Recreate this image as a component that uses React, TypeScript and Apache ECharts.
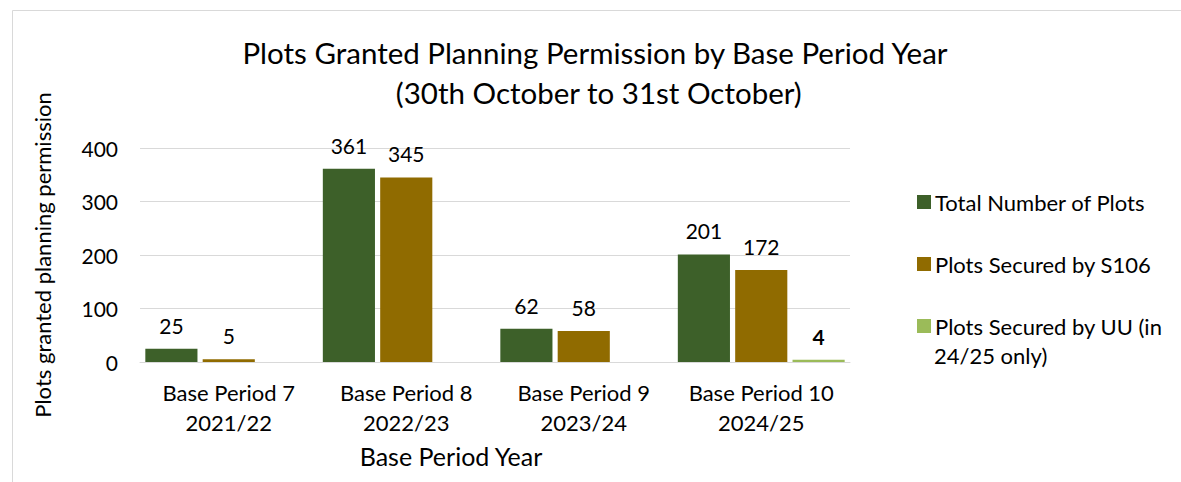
import React, { useEffect, useRef } from "react";
import * as echarts from "echarts";

const categories = ["Base Period 7\n2021/22", "Base Period 8\n2022/23", "Base Period 9\n2023/24", "Base Period 10\n2024/25"];
const totalPlots = [25, 361, 62, 201];
const s106Plots = [5, 345, 58, 172];
const uuPlots: (number | null)[] = [null, null, null, 4];
const yTicks = [0, 100, 200, 300, 400];

const FONT = "Lato";

export default function App() {
  const ref = useRef<HTMLDivElement>(null);
  useEffect(() => {
    if (!ref.current) return;
    const chart = echarts.init(ref.current, undefined, { renderer: "svg" });
    const labelCommon = {
      show: true,
      position: "top" as const,
      distance: 13,
      fontFamily: FONT,
      fontSize: 21,
      color: "#000",
    };
    chart.setOption({
      animation: false,
      backgroundColor: "#fff",
      textStyle: { fontFamily: FONT },
      title: {
        text: "Plots Granted Planning Permission by Base Period Year\n (30th October to 31st October)",
        left: 590,
        top: 27,
        textAlign: "center",
        textStyle: { fontFamily: FONT, fontSize: 29.5, fontWeight: "normal", color: "#000", lineHeight: 40 },
      },
      legend: {
        orient: "vertical",
        left: 912,
        top: 185,
        itemWidth: 14,
        itemHeight: 14,
        itemGap: 38,
        icon: "rect",
        textStyle: { fontFamily: FONT, fontSize: 22, color: "#000", lineHeight: 24, padding: [0, 0, 0, -1] },
        formatter: (name: string) => (name.startsWith("Plots Secured by UU") ? "Plots Secured by UU (in" : name),
      },
      grid: { left: 140, right: 331, top: 148, bottom: 120 },
      xAxis: {
        type: "category",
        data: categories,
        axisLine: { lineStyle: { color: "#D9D9D9", width: 1 } },
        axisTick: { show: false },
        axisLabel: { interval: 0, hideOverlap: false, fontFamily: FONT, fontSize: 22, color: "#000", lineHeight: 30, margin: 15 },
      },
      yAxis: {
        type: "value",
        min: yTicks[0],
        max: yTicks[yTicks.length - 1],
        interval: 100,
        name: "Plots granted planning permission",
        nameLocation: "middle",
        nameGap: 87,
        nameTextStyle: { fontFamily: FONT, fontSize: 22, color: "#000" },
        axisLine: { show: false },
        axisTick: { show: false },
        splitLine: { lineStyle: { color: "#D9D9D9", width: 1 } },
        axisLabel: { fontFamily: FONT, fontSize: 21, color: "#000", margin: 22 },
      },
      series: [
        {
          name: "Total Number of Plots",
          type: "bar",
          data: totalPlots,
          itemStyle: { color: "#3D6029" },
          barGap: "10%",
          barCategoryGap: "6%",
          label: labelCommon,
        },
        {
          name: "Plots Secured by S106",
          type: "bar",
          data: s106Plots,
          itemStyle: { color: "#906B00" },
          label: labelCommon,
        },
        {
          name: "Plots Secured by UU (in 24/25 only)",
          type: "bar",
          data: uuPlots,
          itemStyle: { color: "#9BBB59" },
          label: { ...labelCommon, fontWeight: "bold" },
        },
      ],
      graphic: [
        {
          type: "rect",
          shape: { x: 12.5, y: 10.5, width: 1200, height: 500 },
          style: { fill: "none", stroke: "#D9D9D9", lineWidth: 1 },
          silent: true,
          z: -1,
        },
        {
          type: "text",
          x: 934,
          y: 355,
          style: { text: "24/25 only)", fontFamily: FONT, fontSize: 22, fill: "#000", verticalAlign: "middle" },
        },
        {
          type: "text",
          x: 451,
          y: 456,
          style: { text: "Base Period Year", fontFamily: FONT, fontSize: 25, fill: "#000", align: "center", verticalAlign: "middle" },
        },
      ],
    });
    return () => chart.dispose();
  }, []);
  return <div ref={ref} style={{ position: "fixed", left: 0, top: 0, width: 1181, height: 482 }} />;
}
